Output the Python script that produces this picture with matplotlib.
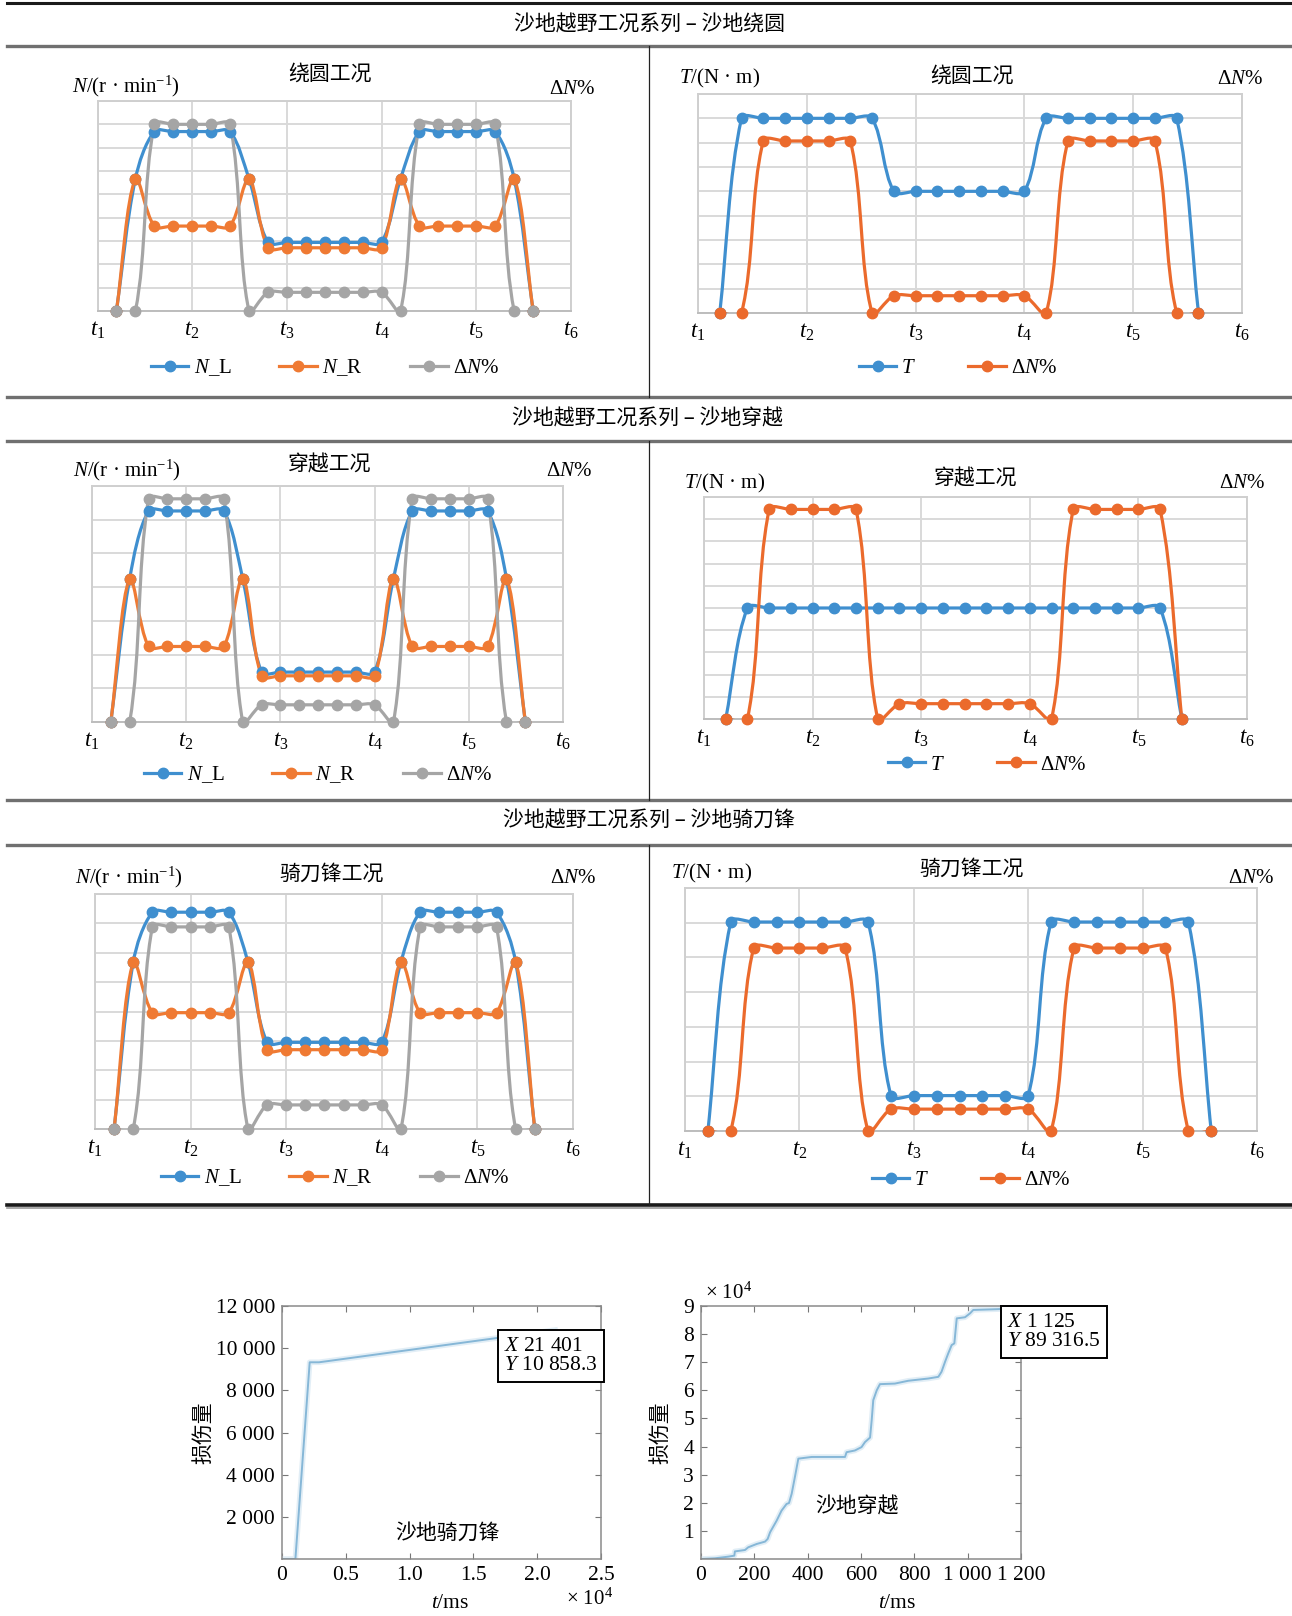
import numpy as np
import matplotlib
matplotlib.use('Agg')
import matplotlib.pyplot as plt
from matplotlib.path import Path
from matplotlib.patches import PathPatch
from matplotlib.lines import Line2D

plt.rcParams['font.family'] = ['Liberation Serif', 'Noto Sans CJK SC']
plt.rcParams['mathtext.fontset'] = 'custom'
plt.rcParams['mathtext.rm'] = 'Liberation Serif'
plt.rcParams['mathtext.it'] = 'Liberation Serif:italic'
plt.rcParams['mathtext.bf'] = 'Liberation Serif:bold'

W, H = 1292, 1616
CJK = ['Noto Sans CJK SC', 'DejaVu Sans']

# ---- data (grid units) ----
t_ticks = [0, 5, 10, 15, 20, 25]
t_labels = ['$t_1$', '$t_2$', '$t_3$', '$t_4$', '$t_5$', '$t_6$']

# 沙地绕圆
nl_circle = [0, 5.66, 7.69, 7.69, 7.69, 7.69, 7.69, 5.66, 2.94, 2.94, 2.94, 2.94, 2.94, 2.94, 2.94,
             5.66, 7.69, 7.69, 7.69, 7.69, 7.69, 5.66, 0]
nr_circle = [0, 5.66, 3.64, 3.64, 3.64, 3.64, 3.64, 5.66, 2.71, 2.71, 2.71, 2.71, 2.71, 2.71, 2.71,
             5.66, 3.64, 3.64, 3.64, 3.64, 3.64, 5.66, 0]
dn_circle = [0, 0, 8.0, 8.0, 8.0, 8.0, 8.0, 0, 0.8, 0.8, 0.8, 0.8, 0.8, 0.8, 0.8,
             0, 8.0, 8.0, 8.0, 8.0, 8.0, 0, 0]
t_circle = [0, 8.0, 8.0, 8.0, 8.0, 8.0, 8.0, 8.0, 5.0, 5.0, 5.0, 5.0, 5.0, 5.0, 5.0,
            8.0, 8.0, 8.0, 8.0, 8.0, 8.0, 8.0, 0]
dnt_circle = [0, 0, 7.07, 7.07, 7.07, 7.07, 7.07, 0, 0.71, 0.71, 0.71, 0.71, 0.71, 0.71, 0.71,
              0, 7.07, 7.07, 7.07, 7.07, 7.07, 0, 0]

# 沙地穿越
nl_cross = [0, 4.25, 6.26, 6.26, 6.26, 6.26, 6.26, 4.25, 1.48, 1.48, 1.48, 1.48, 1.48, 1.48, 1.48,
            4.25, 6.26, 6.26, 6.26, 6.26, 6.26, 4.25, 0]
nr_cross = [0, 4.25, 2.24, 2.24, 2.24, 2.24, 2.24, 4.25, 1.37, 1.37, 1.37, 1.37, 1.37, 1.37, 1.37,
            4.25, 2.24, 2.24, 2.24, 2.24, 2.24, 4.25, 0]
dn_cross = [0, 0, 6.62, 6.62, 6.62, 6.62, 6.62, 0, 0.51, 0.51, 0.51, 0.51, 0.51, 0.51, 0.51,
            0, 6.62, 6.62, 6.62, 6.62, 6.62, 0, 0]
t_cross = [0, 5.0, 5.0, 5.0, 5.0, 5.0, 5.0, 5.0, 5.0, 5.0, 5.0, 5.0, 5.0, 5.0, 5.0,
           5.0, 5.0, 5.0, 5.0, 5.0, 5.0, 0]
dnt_cross = [0, 0, 9.44, 9.44, 9.44, 9.44, 9.44, 0, 0.69, 0.69, 0.69, 0.69, 0.69, 0.69, 0.69,
             0, 9.44, 9.44, 9.44, 9.44, 9.44, 0]

# 沙地骑刀锋
nl_blade = [0, 5.68, 7.38, 7.38, 7.38, 7.38, 7.38, 5.68, 2.95, 2.95, 2.95, 2.95, 2.95, 2.95, 2.95,
            5.68, 7.38, 7.38, 7.38, 7.38, 7.38, 5.68, 0]
nr_blade = [0, 5.68, 3.96, 3.96, 3.96, 3.96, 3.96, 5.68, 2.70, 2.70, 2.70, 2.70, 2.70, 2.70, 2.70,
            5.68, 3.96, 3.96, 3.96, 3.96, 3.96, 5.68, 0]
dn_blade = [0, 0, 6.88, 6.88, 6.88, 6.88, 6.88, 0, 0.82, 0.82, 0.82, 0.82, 0.82, 0.82, 0.82,
            0, 6.88, 6.88, 6.88, 6.88, 6.88, 0, 0]
t_blade = [0, 6.02, 6.02, 6.02, 6.02, 6.02, 6.02, 6.02, 1.02, 1.02, 1.02, 1.02, 1.02, 1.02, 1.02,
           6.02, 6.02, 6.02, 6.02, 6.02, 6.02, 6.02, 0]
dnt_blade = [0, 0, 5.27, 5.27, 5.27, 5.27, 5.27, 0, 0.63, 0.63, 0.63, 0.63, 0.63, 0.63, 0.63,
             0, 5.27, 5.27, 5.27, 5.27, 5.27, 0, 0]

# damage curves
blade_time = [0, 1050, 2170, 2900, 21401]
blade_damage = [0, 0, 9330, 9330, 10858.3]
cross_time = [0, 52, 102, 125, 127, 165, 177, 209, 240, 250, 259, 284, 302, 321, 330, 340, 352, 365,
              415, 540, 546, 577, 602, 615, 634, 640, 646, 659, 671, 727, 777, 852, 890, 902, 915,
              927, 940, 950, 959, 990, 1009, 1021, 1121, 1125]
cross_damage = [0, 240, 830, 1190, 2700, 3200, 4160, 5350, 6180, 7130, 9500, 13700, 17200, 19600,
                19900, 23200, 29100, 35700, 36300, 36300, 38000, 38600, 39800, 41600, 43200, 49300,
                56500, 60000, 62200, 62400, 63400, 64200, 64800, 66600, 70100, 73100, 76100, 76700,
                85600, 86000, 87400, 88600, 88900, 89316.5]

BLUE, ORANGE, GRAY = '#3f8fcf', '#ef7a33', '#a5a5a5'
ORANGE2 = '#eb6a2c'

fig = plt.figure(figsize=(W / 100, H / 100), dpi=100)


def add_ax(x0, y0, x1, y1):
    return fig.add_axes([x0 / W, 1 - y1 / H, (x1 - x0) / W, (y1 - y0) / H])


def ftext(x, y, s, **kw):
    kw.setdefault('va', 'center')
    kw.setdefault('fontsize', 15)
    return fig.text(x / W, 1 - y / H, s, **kw)


def hline(y, x0, x1, color, lw):
    fig.add_artist(Line2D([x0 / W, x1 / W], [1 - y / H, 1 - y / H], color=color, lw=lw,
                          transform=fig.transFigure))


def vline(x, y0, y1, color, lw):
    fig.add_artist(Line2D([x / W, x / W], [1 - y0 / H, 1 - y1 / H], color=color, lw=lw,
                          transform=fig.transFigure))


def smooth_path(ax, xs, ys):
    # Excel-like smoothed line: cubic Bezier through the points
    x = np.asarray(xs, float)
    y = np.asarray(ys, float)
    sx = ax.bbox.width / np.ptp(ax.get_xlim())
    sy = ax.bbox.height / np.ptp(ax.get_ylim())
    px = np.r_[x[0], x, x[-1]]
    py = np.r_[y[0], y, y[-1]]
    d = np.hypot(np.diff(px) * sx, np.diff(py) * sy)
    verts = [(x[0], y[0])]
    codes = [Path.MOVETO]
    for i in range(len(x) - 1):
        w1 = d[i + 1] / (d[i] + d[i + 1])
        w2 = d[i + 1] / (d[i + 1] + d[i + 2])
        c1 = (x[i] + (px[i + 2] - px[i]) * w1 / 3, y[i] + (py[i + 2] - py[i]) * w1 / 3)
        c2 = (x[i + 1] - (px[i + 3] - px[i + 1]) * w2 / 3, y[i + 1] - (py[i + 3] - py[i + 1]) * w2 / 3)
        verts += [c1, c2, (x[i + 1], y[i + 1])]
        codes += [Path.CURVE4] * 3
    return Path(verts, codes)


def excel_panel(box, ymax, series, title, title_xy, ylab, ylab_xy, dn_xy, leg_xy, colsp):
    ax = add_ax(*box)
    ax.set_xlim(0, 25)
    ax.set_ylim(0, ymax)
    ax.set_xticks(t_ticks, t_labels)
    ax.set_yticks(range(ymax + 1))
    ax.set_yticklabels([])
    ax.tick_params(length=0, pad=6, labelsize=16.5)
    ax.grid(True, color='#d9d9d9', lw=1.4)
    ax.set_axisbelow(True)
    for s in ax.spines.values():
        s.set_color('#cfcfcf')
        s.set_linewidth(1.4)
    ax.spines['bottom'].set_color('#bdbdbd')
    handles = []
    for vals, color, label in series:
        xs = np.arange(1, len(vals) + 1)
        ax.add_patch(PathPatch(smooth_path(ax, xs, vals), fill=False, ec=color, lw=2.3,
                               zorder=3, joinstyle='round', capstyle='round'))
        ax.plot(xs, vals, 'o', color=color, ms=7.5, zorder=4, clip_on=False)
        handles.append(Line2D([], [], color=color, lw=2.3, marker='o', ms=7.5, label=label))
    ftext(*title_xy, title, ha='center', family=CJK)
    ftext(*ylab_xy, ylab, ha='left')
    ftext(*dn_xy, 'Δ$N$%', ha='center')
    fig.legend(handles=handles, loc='center', bbox_to_anchor=(leg_xy[0] / W, 1 - leg_xy[1] / H),
               ncol=len(handles), frameon=False, fontsize=15, handlelength=1.8,
               handletextpad=0.25, columnspacing=colsp, borderaxespad=0)
    return ax


N_LAB = '$N$/(r · min$^{-1}$)'
T_LAB = '$T$/(N · m)'

excel_panel((97.5, 101, 571, 311), 9,
            [(nl_circle, BLUE, '$N$_L'), (nr_circle, ORANGE, '$N$_R'), (dn_circle, GRAY, 'Δ$N$%')],
            '绕圆工况', (330, 74), N_LAB, (72, 86), (572, 89), (325, 368), 2.3)
excel_panel((698, 94, 1242, 313), 9,
            [(t_circle, BLUE, '$T$'), (dnt_circle, ORANGE2, 'Δ$N$%')],
            '绕圆工况', (972, 76), T_LAB, (679, 78), (1240, 79), (958, 368), 2.5)
excel_panel((92, 486, 563, 722), 7,
            [(nl_cross, BLUE, '$N$_L'), (nr_cross, ORANGE, '$N$_R'), (dn_cross, GRAY, 'Δ$N$%')],
            '穿越工况', (330, 465), N_LAB, (73, 470), (569, 472), (318, 775), 2.3)
excel_panel((704, 497, 1247, 719), 10,
            [(t_cross, BLUE, '$T$'), (dnt_cross, ORANGE2, 'Δ$N$%')],
            '穿越工况', (976, 479), T_LAB, (684, 483), (1242, 483), (987, 765), 2.5)
excel_panel((95, 894, 573, 1129), 8,
            [(nl_blade, BLUE, '$N$_L'), (nr_blade, ORANGE, '$N$_R'), (dn_blade, GRAY, 'Δ$N$%')],
            '骑刀锋工况', (332, 874), N_LAB, (75, 877), (573, 878), (335, 1178), 2.3)
excel_panel((685, 888, 1257, 1131), 7,
            [(t_blade, BLUE, '$T$'), (dnt_blade, ORANGE2, 'Δ$N$%')],
            '骑刀锋工况', (972, 869), T_LAB, (671, 873), (1251, 878), (971, 1180), 2.5)

# table frame
hline(3, 7, W, '#1a1a1a', 2.2)
for y in (46, 397, 441, 800, 845):
    hline(y, 7, W, '#707070', 2.4)
hline(1205, 7, W, '#1a1a1a', 2.6)
hline(1208, 7, W, '#9a9a9a', 1.2)
for y0, y1 in ((46, 397), (441, 800), (845, 1205)):
    vline(649, y0, y1, '#222222', 0.9)
ftext(649, 25, '沙地越野工况系列 – 沙地绕圆', ha='center', family=CJK)
ftext(647, 419, '沙地越野工况系列 – 沙地穿越', ha='center', family=CJK)
ftext(649, 821, '沙地越野工况系列 – 沙地骑刀锋', ha='center', family=CJK)

# damage curves
def damage_axes(box):
    ax = add_ax(*box)
    ax.tick_params(direction='in', top=True, right=True, length=4, width=0.8, color='#777777',
                   labelsize=15.5, pad=5)
    for s in ax.spines.values():
        s.set_color('#8a8a8a')
        s.set_linewidth(1.1)
    return ax


axL = damage_axes((282, 1306, 601, 1559))
axL.plot(blade_time, blade_damage, color='#e2eef6', lw=4)
axL.plot(blade_time, blade_damage, color='#86b7d7', lw=1.4)
axL.set_xlim(0, 25000)
axL.set_ylim(0, 12000)
axL.set_xticks([0, 5000, 10000, 15000, 20000, 25000], ['0', '0.5', '1.0', '1.5', '2.0', '2.5'])
axL.set_yticks([2000, 4000, 6000, 8000, 10000, 12000],
               ['2 000', '4 000', '6 000', '8 000', '10 000', '12 000'])

axR = damage_axes((701, 1306, 1021, 1559))
axR.plot(cross_time, cross_damage, color='#e2eef6', lw=4)
axR.plot(cross_time, cross_damage, color='#86b7d7', lw=1.4)
axR.set_xlim(0, 1200)
axR.set_ylim(0, 90000)
axR.set_xticks([0, 200, 400, 600, 800, 1000, 1200], ['0', '200', '400', '600', '800', '1 000', '1 200'])
axR.set_yticks([10000, 20000, 30000, 40000, 50000, 60000, 70000, 80000, 90000],
               ['1', '2', '3', '4', '5', '6', '7', '8', '9'])

ftext(203, 1433, '损伤量', ha='center', rotation=90, family=CJK)
ftext(660, 1433, '损伤量', ha='center', rotation=90, family=CJK)
ftext(450, 1603, '$t$/ms', ha='center', fontsize=15.5)
ftext(897, 1603, '$t$/ms', ha='center', fontsize=15.5)
ftext(590, 1599, '× 10$^4$', ha='center')
ftext(705, 1293, '× 10$^4$', ha='left')
ftext(447, 1533, '沙地骑刀锋', ha='center', family=CJK)
ftext(857, 1507, '沙地穿越', ha='center', family=CJK)

box = dict(boxstyle='square,pad=0.3', fc='white', ec='black', lw=1.4)
ftext(504, 1356, '$X$ 21 401\n$Y$ 10 858.3', ha='left', linespacing=1.05, bbox=box, fontsize=15.5)
ftext(1007, 1332, '$X$ 1 125\n$Y$ 89 316.5', ha='left', linespacing=1.05, bbox=box, fontsize=15.5)

fig.savefig('out.png', dpi=100)
